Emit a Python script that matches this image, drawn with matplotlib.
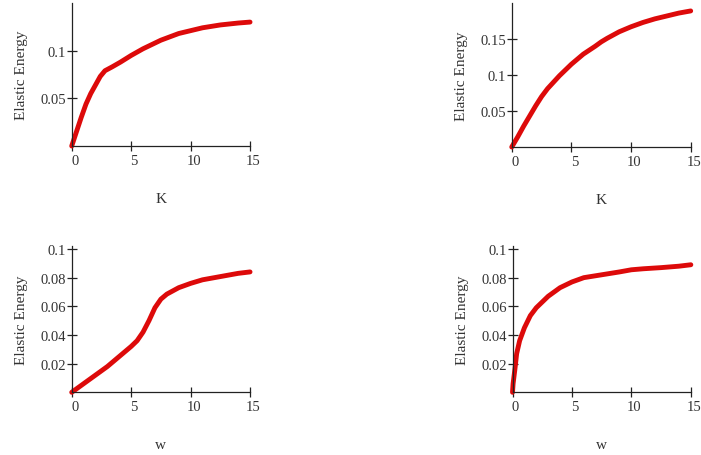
import matplotlib
matplotlib.use("Agg")
import matplotlib.pyplot as plt
import matplotlib.transforms as mtransforms

# --- data ---
# top left: energy vs K
k_a = [0, 0.4, 0.8, 1.2, 1.6, 2.0, 2.4, 2.8, 3.4, 4.1, 5, 6, 7.5, 9, 10, 11, 12.5, 14, 15]
e_a = [0, 0.015, 0.030, 0.044, 0.055, 0.064, 0.073, 0.079, 0.083, 0.088, 0.095,
       0.102, 0.111, 0.118, 0.121, 0.124, 0.127, 0.129, 0.130]

# top right: energy vs K
k_b = [0, 0.5, 1, 1.5, 2, 2.5, 3, 4, 5, 6, 7, 7.5, 8, 9, 10, 11, 12, 13, 14, 15]
e_b = [0, 0.014, 0.029, 0.043, 0.057, 0.070, 0.081, 0.099, 0.115, 0.129, 0.140,
       0.146, 0.151, 0.160, 0.167, 0.173, 0.178, 0.182, 0.186, 0.189]

# bottom left: energy vs w
w_c = [0, 1, 2, 3, 4, 5, 5.5, 6, 6.5, 7, 7.5, 8, 9, 10, 11, 12, 13, 14, 15]
e_c = [0, 0.006, 0.012, 0.018, 0.025, 0.032, 0.036, 0.042, 0.050, 0.059, 0.065,
       0.0685, 0.073, 0.076, 0.0785, 0.080, 0.0815, 0.083, 0.084]

# bottom right: energy vs w
w_d = [0, 0.05, 0.2, 0.35, 0.6, 1, 1.5, 2, 3, 4, 5, 6, 7.5, 9, 10, 11, 12.5, 14, 15]
e_d = [0, 0.006, 0.016, 0.027, 0.036, 0.045, 0.0535, 0.059, 0.067, 0.073, 0.077,
       0.080, 0.082, 0.084, 0.0855, 0.0862, 0.087, 0.088, 0.089]

x_ticks = [0, 5, 10, 15]

panels = [
    # x, y, rect, ylim, yticks, yticklabels, xlabel
    (k_a, e_a, [0.1023, 0.6776, 0.2544, 0.3136], 0.15, [0.05, 0.1], ["0.05", "0.1"], "K"),
    (k_b, e_b, [0.7300, 0.6754, 0.2553, 0.3158], 0.20, [0.05, 0.1, 0.15], ["0.05", "0.1", "0.15"], "K"),
    (w_c, e_c, [0.1023, 0.1375, 0.2544, 0.3215], 0.1023, [0.02, 0.04, 0.06, 0.08, 0.1],
     ["0.02", "0.04", "0.06", "0.08", "0.1"], "w"),
    (w_d, e_d, [0.7311, 0.1375, 0.2544, 0.3215], 0.1023, [0.02, 0.04, 0.06, 0.08, 0.1],
     ["0.02", "0.04", "0.06", "0.08", "0.1"], "w"),
]

plt.rcParams["font.family"] = ["Liberation Serif", "DejaVu Serif"]

fig = plt.figure(figsize=(7.01, 4.56), dpi=100)
shift = mtransforms.ScaledTranslation(3 / 100, 0, fig.dpi_scale_trans)

for x, y, rect, ytop, yt, ytl, xl in panels:
    ax = fig.add_axes(rect)
    ax.plot(x, y, color="#dd0a0a", linewidth=3.5, solid_capstyle="round",
            solid_joinstyle="round", clip_on=False)
    ax.set_xlim(0, 15)
    ax.set_ylim(0, ytop)
    for s in ["top", "right"]:
        ax.spines[s].set_visible(False)
    for s in ["left", "bottom"]:
        ax.spines[s].set_color("#222222")
        ax.spines[s].set_linewidth(0.9)
    ax.set_xticks(x_ticks)
    ax.set_xticklabels([str(t) for t in x_ticks])
    ax.set_yticks(yt)
    ax.set_yticklabels(ytl)
    ax.tick_params(axis="both", direction="inout", length=7, width=0.9,
                   color="#222222", labelsize=10.5, labelcolor="#333333")
    ax.tick_params(axis="y", pad=0.5)
    ax.tick_params(axis="x", pad=2)
    for lab in ax.get_xticklabels():
        lab.set_transform(lab.get_transform() + shift)
    ax.set_xlabel(xl, fontsize=11, labelpad=18, color="#333333")
    ax.set_ylabel("Elastic Energy", fontsize=11, color="#333333")
    ax.yaxis.set_label_coords(-0.245, 0.5)

fig.savefig("out.png", dpi=100)
